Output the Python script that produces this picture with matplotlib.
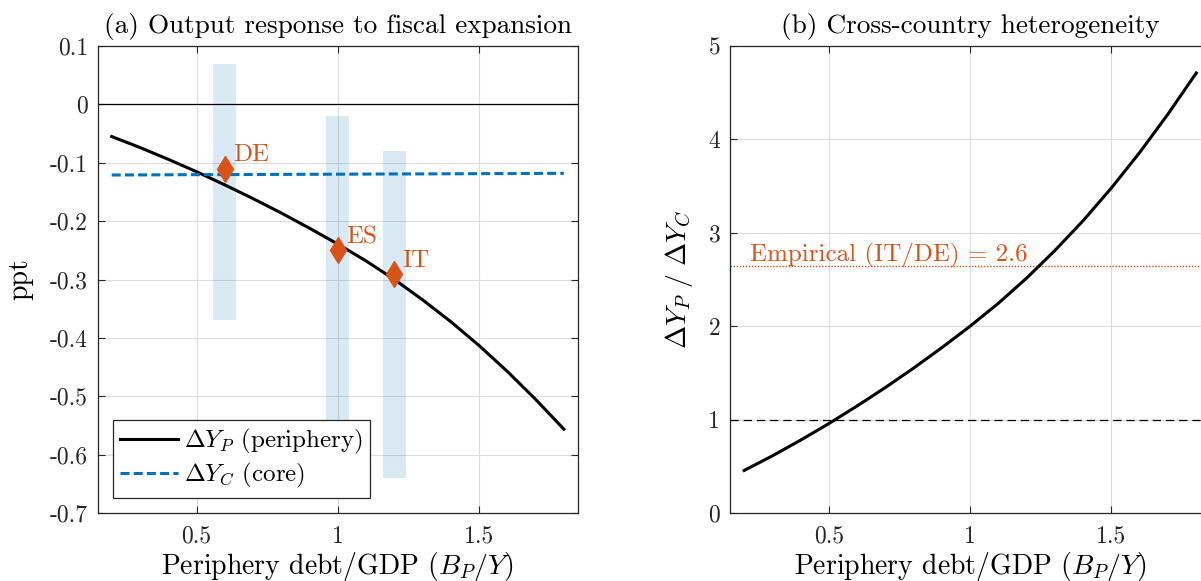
import matplotlib
matplotlib.use('Agg')
import matplotlib.pyplot as plt
import numpy as np
from matplotlib.ticker import FuncFormatter

plt.rcParams['font.family'] = ['cmr10', 'DejaVu Serif']
plt.rcParams['mathtext.fontset'] = 'cm'
plt.rcParams['axes.unicode_minus'] = False
plt.rcParams['lines.scale_dashes'] = False

# model output on a grid of periphery debt/GDP
debt = [0.2, 0.3, 0.4, 0.5, 0.6, 0.7, 0.8, 0.9, 1.0,
        1.1, 1.2, 1.3, 1.4, 1.5, 1.6, 1.7, 1.8]
dy_periphery = [-0.0551, -0.0739, -0.0941, -0.1153, -0.1379, -0.1614, -0.1861, -0.2122, -0.2393,
                -0.2682, -0.2999, -0.3348, -0.3723, -0.4132, -0.4575, -0.5053, -0.5564]
dy_core = [-0.1210, -0.1208, -0.1206, -0.1204, -0.1203, -0.1201, -0.1199, -0.1198, -0.1196,
           -0.1194, -0.1192, -0.1191, -0.1189, -0.1187, -0.1185, -0.1183, -0.1181]

# empirical estimates by country
countries = ['DE', 'ES', 'IT']
country_debt = [0.6, 1.0, 1.2]
country_dy = [-0.11, -0.25, -0.29]
band_lo = [-0.37, -0.60, -0.64]
band_hi = [0.07, -0.02, -0.08]
empirical_ratio = 2.64

blue = '#0072BD'
orange = '#D95319'
axcol = '#262626'

ratio = np.array(dy_periphery) / np.array(dy_core)

fmt = FuncFormatter(lambda v, p: '%g' % (round(v, 6) + 0.0))


def style(ax):
    ax.grid(True, color='#dcdcdc', linewidth=0.8)
    ax.set_axisbelow(True)
    ax.tick_params(direction='in', length=5, width=0.8, colors=axcol,
                   labelsize=17, top=True, right=True, pad=7)
    ax.tick_params(axis='x', pad=9)
    for s in ax.spines.values():
        s.set_color(axcol)
        s.set_linewidth(0.9)
    ax.xaxis.set_major_formatter(fmt)
    ax.yaxis.set_major_formatter(fmt)


fig = plt.figure(figsize=(12.01, 5.81), dpi=100)
W, H = 1201, 581
ax1 = fig.add_axes([97.6 / W, 1 - 513 / H, 480.4 / W, 467 / H])
ax2 = fig.add_axes([730 / W, 1 - 513 / H, 480.4 / W, 467 / H])

# (a) levels
ax1.bar(country_debt, np.array(band_hi) - np.array(band_lo), bottom=band_lo,
        width=0.08, color=blue, alpha=0.15, linewidth=0, zorder=1)
ax1.axhline(0, color='black', linewidth=0.9, zorder=2)
ax1.plot(debt, dy_periphery, color='black', linewidth=2.2, zorder=3,
         label=r'$\Delta Y_P$ (periphery)')
ax1.plot(debt, dy_core, color=blue, linewidth=2.2, dashes=(6.5, 3), zorder=3,
         label=r'$\Delta Y_C$ (core)')
ax1.plot(country_debt, country_dy, 'd', color=orange, markersize=13, zorder=4)
for c, xv, yv in zip(countries, country_debt, country_dy):
    ax1.annotate(c, (xv, yv), xytext=(6, 9.5), textcoords='offset points',
                 ha='left', va='center', color=orange, fontsize=18, zorder=5)

ax1.set_xlim(0.15, 1.85)
ax1.set_ylim(-0.7, 0.1)
ax1.set_xticks([0.5, 1, 1.5])
ax1.set_yticks(np.round(np.arange(-7, 2) * 0.1, 1))
style(ax1)
ax1.set_title('(a) Output response to fiscal expansion', fontsize=19.6, pad=9)
ax1.set_xlabel(r'Periphery debt/GDP ($B_P/Y$)', fontsize=20, labelpad=2)
ax1.set_ylabel('ppt', fontsize=20, labelpad=12)
leg = ax1.legend(loc='lower left', bbox_to_anchor=(15 / 480.4, 15 / 467),
                 borderaxespad=0, fontsize=18, handlelength=2.3, handletextpad=0.25,
                 fancybox=False, framealpha=1, edgecolor=axcol, borderpad=0.3,
                 labelspacing=0.2)
leg.get_frame().set_linewidth(0.9)

# (b) ratio periphery/core
ax2.axhline(1, color='black', linewidth=0.9, dashes=(6, 3.5), zorder=2)
ax2.axhline(empirical_ratio, color=orange, linewidth=1.0, dashes=(1, 1.2), zorder=2)
ax2.text(0.22, empirical_ratio + 0.05, 'Empirical (IT/DE) = %.1f' % empirical_ratio,
         color=orange, fontsize=18, ha='left', va='baseline')
ax2.plot(debt, ratio, color='black', linewidth=2.2, zorder=3)
ax2.set_xlim(0.15, 1.85)
ax2.set_ylim(0, 5)
ax2.set_xticks([0.5, 1, 1.5])
ax2.set_yticks([0, 1, 2, 3, 4, 5])
style(ax2)
ax2.set_title('(b) Cross-country heterogeneity', fontsize=19.6, pad=9)
ax2.set_xlabel(r'Periphery debt/GDP ($B_P/Y$)', fontsize=20, labelpad=2)
ax2.set_ylabel(r'$\Delta Y_P\ /\ \Delta Y_C$', fontsize=20, labelpad=10)

fig.savefig('out.png', dpi=100)
